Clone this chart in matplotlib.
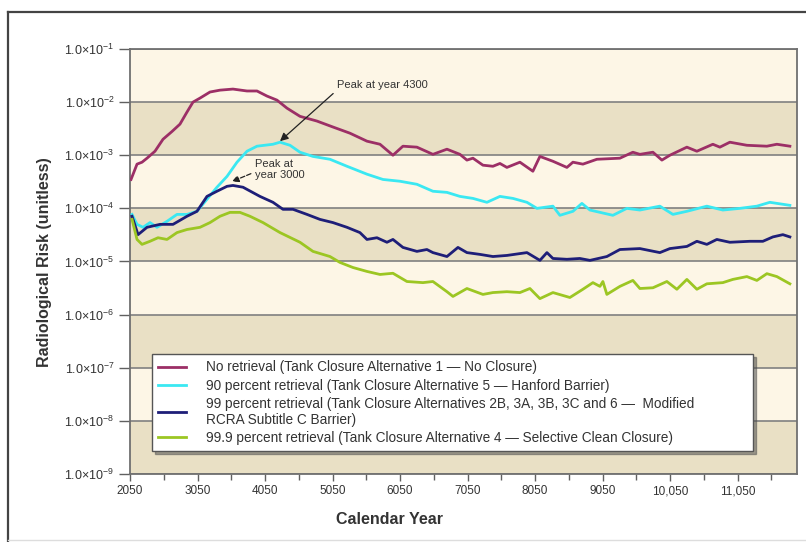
import matplotlib
matplotlib.use('Agg')
import matplotlib.pyplot as plt
from matplotlib.lines import Line2D
from matplotlib.ticker import FixedLocator, FixedFormatter

plt.rcParams['font.family'] = ['Liberation Sans', 'DejaVu Sans']
plt.rcParams['mathtext.fontset'] = 'custom'
plt.rcParams['mathtext.rm'] = 'Liberation Sans'
plt.rcParams['mathtext.it'] = 'Liberation Sans:italic'
plt.rcParams['mathtext.bf'] = 'Liberation Sans:bold'

# ── 데이터 ──
no_years = [2065, 2154, 2228, 2302, 2420, 2539, 2672, 2790, 2894, 2983, 3087, 3235,
            3383, 3575, 3783, 3931, 4079, 4227, 4375, 4568, 4819, 5056, 5308, 5560,
            5753, 5945, 6093, 6300, 6537, 6745, 6937, 7041, 7130, 7278, 7426, 7530,
            7633, 7826, 8018, 8122, 8315, 8522, 8611, 8759, 8966, 9307, 9499, 9603,
            9796, 9929, 10047, 10299, 10447, 10684, 10788, 10936, 11188, 11484, 11632, 11825]
no_risk = [3.5e-4, 6.8e-4, 7.4e-4, 8.8e-4, 1.19e-3, 2.0e-3, 2.8e-3, 3.85e-3, 6.5e-3, 1.0e-2,
           1.19e-2, 1.55e-2, 1.68e-2, 1.76e-2, 1.62e-2, 1.62e-2, 1.3e-2, 1.09e-2, 7.7e-3, 5.4e-3,
           4.4e-3, 3.4e-3, 2.6e-3, 1.84e-3, 1.61e-3, 1.0e-3, 1.48e-3, 1.42e-3, 1.04e-3, 1.3e-3,
           1.04e-3, 8.1e-4, 8.8e-4, 6.5e-4, 6.2e-4, 7.0e-4, 5.9e-4, 7.4e-4, 5.0e-4, 9.5e-4,
           7.7e-4, 5.9e-4, 7.4e-4, 6.8e-4, 8.4e-4, 8.8e-4, 1.14e-3, 1.04e-3, 1.14e-3, 8.1e-4,
           1.0e-3, 1.42e-3, 1.19e-3, 1.61e-3, 1.42e-3, 1.76e-3, 1.54e-3, 1.48e-3, 1.61e-3, 1.48e-3]

p90_years = [2080, 2154, 2243, 2346, 2450, 2598, 2746, 2894, 3042, 3190, 3338, 3487,
             3635, 3783, 3931, 4168, 4272, 4420, 4568, 4760, 5012, 5264, 5560, 5797,
             6049, 6300, 6537, 6745, 6937, 7130, 7337, 7530, 7722, 7930, 8078, 8315,
             8418, 8611, 8744, 8863, 9203, 9410, 9603, 9899, 10092, 10299, 10595, 10832,
             11084, 11336, 11528, 11825]
p90_risk = [7.7e-5, 5.0e-5, 4.4e-5, 5.4e-5, 4.4e-5, 5.7e-5, 7.7e-5, 7.7e-5, 8.8e-5, 1.48e-4,
            2.5e-4, 4.0e-4, 7.4e-4, 1.19e-3, 1.48e-3, 1.61e-3, 1.76e-3, 1.54e-3, 1.14e-3, 9.5e-4,
            8.4e-4, 6.2e-4, 4.4e-4, 3.5e-4, 3.24e-4, 2.84e-4, 2.1e-4, 2.0e-4, 1.68e-4, 1.54e-4,
            1.3e-4, 1.68e-4, 1.54e-4, 1.3e-4, 1.0e-4, 1.1e-4, 7.4e-5, 8.8e-5, 1.24e-4, 9.3e-5,
            7.4e-5, 1.0e-4, 9.3e-5, 1.1e-4, 7.7e-5, 8.8e-5, 1.1e-4, 9.3e-5, 1.0e-4, 1.1e-4,
            1.3e-4, 1.14e-4]

p99_years = [2080, 2169, 2302, 2494, 2687, 2894, 3042, 3190, 3338, 3487, 3575, 3724,
             3975, 4168, 4316, 4464, 4671, 4864, 5056, 5264, 5456, 5560, 5708, 5856,
             5945, 6093, 6300, 6448, 6537, 6745, 6908, 7041, 7234, 7426, 7633, 7930,
             8122, 8226, 8315, 8522, 8714, 8863, 9114, 9307, 9603, 9899, 10047, 10299,
             10447, 10595, 10743, 10936, 11232, 11425, 11573, 11721, 11825]
p99_risk = [7.1e-5, 3.2e-5, 4.4e-5, 5.0e-5, 5.0e-5, 7.1e-5, 8.8e-5, 1.68e-4, 2.1e-4, 2.6e-4,
            2.7e-4, 2.5e-4, 1.68e-4, 1.3e-4, 9.6e-5, 9.6e-5, 7.7e-5, 6.2e-5, 5.4e-5, 4.4e-5,
            3.5e-5, 2.6e-5, 2.8e-5, 2.3e-5, 2.6e-5, 1.84e-5, 1.55e-5, 1.68e-5, 1.47e-5, 1.24e-5,
            1.84e-5, 1.47e-5, 1.36e-5, 1.24e-5, 1.3e-5, 1.47e-5, 1.05e-5, 1.47e-5, 1.14e-5, 1.1e-5,
            1.14e-5, 1.05e-5, 1.24e-5, 1.68e-5, 1.75e-5, 1.47e-5, 1.75e-5, 1.92e-5, 2.4e-5, 2.1e-5,
            2.6e-5, 2.3e-5, 2.4e-5, 2.4e-5, 2.9e-5, 3.2e-5, 2.9e-5]

p999_years = [2080, 2154, 2228, 2346, 2465, 2598, 2746, 2894, 3087, 3235, 3383, 3531,
              3679, 3827, 4020, 4272, 4568, 4760, 5012, 5160, 5353, 5560, 5753, 5945,
              6152, 6389, 6537, 6745, 6834, 7041, 7278, 7426, 7633, 7826, 7974, 8122,
              8315, 8566, 8759, 8907, 9011, 9055, 9114, 9307, 9499, 9603, 9796, 10003,
              10151, 10299, 10447, 10595, 10832, 10980, 11188, 11336, 11484, 11632, 11825]
p999_risk = [6.2e-5, 2.6e-5, 2.1e-5, 2.4e-5, 2.8e-5, 2.6e-5, 3.5e-5, 4.0e-5, 4.4e-5, 5.4e-5,
             7.1e-5, 8.4e-5, 8.4e-5, 7.1e-5, 5.4e-5, 3.5e-5, 2.3e-5, 1.55e-5, 1.24e-5, 9.6e-6,
             7.7e-6, 6.5e-6, 5.7e-6, 6.0e-6, 4.2e-6, 4.0e-6, 4.2e-6, 2.7e-6, 2.2e-6, 3.1e-6,
             2.4e-6, 2.6e-6, 2.7e-6, 2.6e-6, 3.1e-6, 2.0e-6, 2.6e-6, 2.1e-6, 3.0e-6, 4.0e-6,
             3.4e-6, 4.2e-6, 2.4e-6, 3.4e-6, 4.4e-6, 3.1e-6, 3.2e-6, 4.2e-6, 3.0e-6, 4.6e-6,
             3.0e-6, 3.8e-6, 4.0e-6, 4.6e-6, 5.2e-6, 4.4e-6, 5.9e-6, 5.2e-6, 3.8e-6]

labels = [
    'No retrieval (Tank Closure Alternative 1 \u2014 No Closure)',
    '90 percent retrieval (Tank Closure Alternative 5 \u2014 Hanford Barrier)',
    '99 percent retrieval (Tank Closure Alternatives 2B, 3A, 3B, 3C and 6 \u2014  Modified\nRCRA Subtitle C Barrier)',
    '99.9 percent retrieval (Tank Closure Alternative 4 \u2014 Selective Clean Closure)',
]
colors = ['#9C2F66', '#3AE8F2', '#1E1E78', '#9CC623']

x_ticks = [2050, 3050, 4050, 5050, 6050, 7050, 8050, 9050, 10050, 11050]
x_ticklabels = ['2050', '3050', '4050', '5050', '6050', '7050', '8050', '9050', '10,050', '11,050']
y_exps = [-1, -2, -3, -4, -5, -6, -7, -8, -9]

# ── 그림 ──
fig = plt.figure(figsize=(8.06, 5.42), dpi=100)
ax = fig.add_axes([0.1613, 0.1255, 0.8275, 0.7841])
ax.set_yscale('log')
ax.set_xlim(2050, 11930)
ax.set_ylim(1e-9, 1e-1)

# 배경 띠 (10배 단위로 번갈아)
for e in y_exps[1:]:
    band = '#E9E0C5' if (-e) % 2 == 1 else '#FDF6E6'
    ax.axhspan(10.0 ** e, 10.0 ** (e + 1), color=band, zorder=0, lw=0)
for e in y_exps:
    ax.axhline(10.0 ** e, color='#808080', lw=1.2, zorder=1)

series = [(no_years, no_risk), (p90_years, p90_risk),
          (p99_years, p99_risk), (p999_years, p999_risk)]
for (xs, ys), c, lab in zip(series, colors, labels):
    ax.plot(xs, ys, color=c, lw=2.0, label=lab, zorder=3)

# 축 눈금
ax.yaxis.set_major_locator(FixedLocator([10.0 ** e for e in y_exps]))
ax.yaxis.set_major_formatter(FixedFormatter([r'1.0$\times$10$^{%d}$' % e for e in y_exps]))
ax.yaxis.set_minor_locator(FixedLocator([]))
ax.set_xticks(x_ticks)
ax.set_xticklabels(x_ticklabels)
ax.set_xticks([2550 + 1000 * i for i in range(10)], minor=True)
ax.tick_params(axis='y', which='major', length=8, width=1, color='#606060',
               labelsize=9, labelcolor='#333333', pad=3, direction='out')
ax.tick_params(axis='x', which='major', length=5, width=1, color='#606060',
               labelsize=8.5, labelcolor='#333333', pad=3, direction='out')
ax.tick_params(axis='x', which='minor', length=4, width=1, color='#606060', direction='out')
for s in ax.spines.values():
    s.set_color('#707070')
    s.set_linewidth(1.3)

fig.text(45 / 806, 1 - 262 / 542, 'Radiological Risk (unitless)', rotation=90,
         ha='center', va='center', fontsize=11.5, fontweight='bold', color='#333333')
fig.text(390 / 806, 1 - 520 / 542, 'Calendar Year', ha='center', va='center',
         fontsize=11.5, fontweight='bold', color='#333333')

# 피크 주석
ax.annotate('Peak at year 4300', xy=(4272, 1.84e-3), xytext=(5116, 2.09e-2),
            ha='left', va='center', fontsize=8, color='#333333',
            arrowprops=dict(arrowstyle='-|>', color='#222222', lw=0.9,
                            mutation_scale=12, relpos=(0, 0), shrinkA=1, shrinkB=0),
            zorder=5)
ax.annotate('Peak at\nyear 3000', xy=(3560, 3.2e-4), xytext=(3901, 5.3e-4),
            ha='left', va='center', fontsize=8, color='#333333', linespacing=1.1,
            arrowprops=dict(arrowstyle='-|>', color='#222222', lw=0.9, ls='--',
                            mutation_scale=10, relpos=(0, 0.4), shrinkA=1, shrinkB=0),
            zorder=5)

leg = ax.legend(loc='lower left', bbox_to_anchor=(0.033, 0.054, 0.901, 0.2),
                mode='expand', fontsize=9.8, frameon=True, fancybox=False, shadow=True,
                handlelength=2.05, handletextpad=1.5, borderpad=0.45, labelspacing=0.3,
                borderaxespad=0)
leg.get_frame().set_edgecolor('#555555')
leg.get_frame().set_linewidth(1.0)
for t in leg.get_texts():
    t.set_color('#333333')
for h in leg.get_lines():
    h.set_linewidth(2.0)

# 바깥 테두리
fig.add_artist(Line2D([8 / 806, 8 / 806], [0, 1 - 12 / 542], color='#444444', lw=1.6))
fig.add_artist(Line2D([8 / 806, 1], [1 - 12 / 542, 1 - 12 / 542], color='#444444', lw=1.6))
fig.add_artist(Line2D([8 / 806, 1], [2 / 542, 2 / 542], color='#DDDDDD', lw=1.0))

fig.savefig('out.png', dpi=100)
